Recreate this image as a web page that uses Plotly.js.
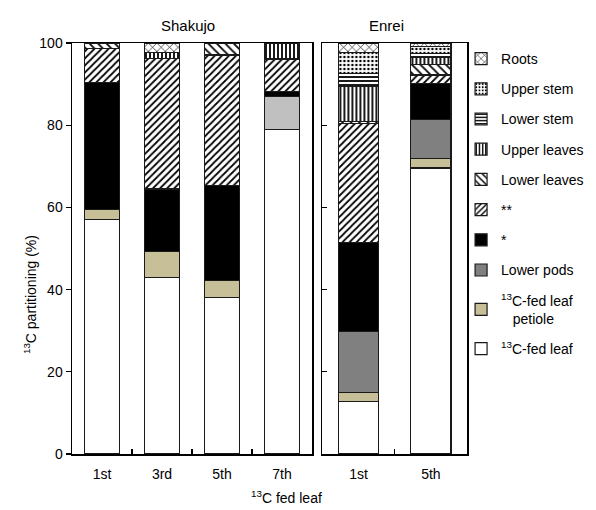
<!DOCTYPE html>
<html><head><meta charset="utf-8">
<script src="https://cdn.plot.ly/plotly-3.0.1.min.js"></script>
<style>body{margin:0;background:#fff}#c{width:596px;height:510px}</style>
</head><body><div id="c"></div>
<script>
// Categories
const shakujoLabels = ['1st', '3rd', '5th', '7th'];
const enreiLabels = ['1st', '5th'];
const seriesNames = ['<sup>13</sup>C-fed leaf', '<sup>13</sup>C-fed leaf<br>\u00a0\u00a0\u00a0petiole', 'Lower pods', '*', '**',
  'Lower leaves', 'Upper leaves', 'Lower stem', 'Upper stem', 'Roots'];

// Shakujo values (%), bottom to top
const sFedLeaf     = [57.1, 43.0, 38.1, 79.0];
const sPetiole     = [2.4, 6.3, 4.2, 0];
const sLowerPods   = [0, 0, 0, 7.9];
const sStar1       = [30.8, 15.2, 23.0, 1.3];
const sStar2       = [8.3, 31.8, 31.8, 7.9];
const sLowerLeaves = [1.4, 0, 2.9, 0];
const sUpperLeaves = [0, 1.4, 0, 3.9];
const sLowerStem   = [0, 0, 0, 0];
const sUpperStem   = [0, 0, 0, 0];
const sRoots       = [0, 2.3, 0, 0];

// Enrei values (%), bottom to top
const eFedLeaf     = [12.7, 69.6];
const ePetiole     = [2.2, 2.3];
const eLowerPods   = [15.0, 9.5];
const eStar1       = [21.6, 8.8];
const eStar2       = [29.0, 2.0];
const eLowerLeaves = [0.4, 2.6];
const eUpperLeaves = [8.5, 1.6];
const eLowerStem   = [3.2, 1.1];
const eUpperStem   = [5.0, 1.6];
const eRoots       = [2.4, 0.9];

const yTicks = [0, 20, 40, 60, 80, 100];

const sData = [sFedLeaf, sPetiole, sLowerPods, sStar1, sStar2, sLowerLeaves, sUpperLeaves, sLowerStem, sUpperStem, sRoots];
const eData = [eFedLeaf, ePetiole, eLowerPods, eStar1, eStar2, eLowerLeaves, eUpperLeaves, eLowerStem, eUpperStem, eRoots];

// styles per series
const styles = [
  {color: '#ffffff'},
  {color: '#c6bf98'},
  {color: '#808080'},
  {color: '#000000'},
  {color: '#ffffff', pattern: {shape: '/', fgcolor: '#000', bgcolor: '#fff', size: 5, solidity: 0.35}},
  {color: '#ffffff', pattern: {shape: '\\', fgcolor: '#000', bgcolor: '#fff', size: 6, solidity: 0.3}},
  {color: '#ffffff', pattern: {shape: '|', fgcolor: '#000', bgcolor: '#fff', size: 4, solidity: 0.45}},
  {color: '#ffffff', pattern: {shape: '-', fgcolor: '#000', bgcolor: '#fff', size: 4, solidity: 0.45}},
  {color: '#ffffff', pattern: {shape: '.', fgcolor: '#000', bgcolor: '#fff', size: 4, solidity: 0.3}},
  {color: '#ffffff', pattern: {shape: 'x', fgcolor: '#000', bgcolor: '#fff', size: 6, solidity: 0.2}}
];

// zero-height segments are not drawn (avoids stray outlines)
const noZero = (arr) => arr.map(v => (v === 0 ? null : v));

const traces = [];
seriesNames.forEach((name, i) => {
  let sColor = styles[i].color;
  if (i === 2) sColor = shakujoLabels.map((l, k) => k === shakujoLabels.length - 1 ? '#c0c0c0' : '#808080');
  const mk = (c) => {
    const m = {color: c, line: {color: '#1a1a1a', width: 1.2}};
    if (styles[i].pattern) m.pattern = styles[i].pattern;
    return m;
  };
  traces.push({
    type: 'bar', name: name, x: shakujoLabels, y: noZero(sData[i]), xaxis: 'x', yaxis: 'y',
    width: 0.58, marker: mk(sColor), legendgroup: 'g' + i, legendrank: 100 - i,
    showlegend: true, hoverinfo: 'skip'
  });
  traces.push({
    type: 'bar', name: name, x: enreiLabels, y: noZero(eData[i]), xaxis: 'x2', yaxis: 'y2',
    width: 0.56, marker: mk(styles[i].color), legendgroup: 'g' + i, legendrank: 100 - i,
    showlegend: false, hoverinfo: 'skip'
  });
});

const fontFam = 'Liberation Sans, Arial, sans-serif';
const axBase = {
  showline: true, mirror: true, linecolor: '#000', linewidth: 1.5,
  showgrid: false, zeroline: false, fixedrange: true
};

const layout = {
  width: 596, height: 510,
  margin: {l: 72, r: 129, t: 43, b: 56, autoexpand: false},
  paper_bgcolor: '#fff', plot_bgcolor: '#fff',
  font: {family: fontFam, size: 14, color: '#000'},
  barmode: 'stack', bargap: 0.42,
  showlegend: true,
  legend: {
    x: 0.985, xanchor: 'left', y: 1.0, yanchor: 'top',
    traceorder: 'grouped', tracegroupgap: 9,
    font: {family: fontFam, size: 14, color: '#000'},
    bgcolor: 'rgba(0,0,0,0)', itemwidth: 30
  },
  xaxis: Object.assign({}, axBase, {
    domain: [0, 0.6076], type: 'category', range: [-0.5, 3.5],
    ticks: 'inside', tickson: 'boundaries', ticklen: 5, tickcolor: '#000', tickwidth: 1.2,
    tickfont: {size: 14}, ticklabelstandoff: 7
  }),
  yaxis: Object.assign({}, axBase, {
    range: [0, 100], tickvals: yTicks, ticks: 'outside', ticklen: 5, tickcolor: '#000', tickwidth: 1.2,
    tickfont: {size: 14}
  }),
  xaxis2: Object.assign({}, axBase, {
    domain: [0.634, 1], type: 'category', range: [-0.5, 1.5], anchor: 'y2',
    ticks: 'inside', tickson: 'boundaries', ticklen: 5, tickcolor: '#000', tickwidth: 1.2,
    tickfont: {size: 14}, ticklabelstandoff: 7
  }),
  yaxis2: Object.assign({}, axBase, {
    range: [0, 100], anchor: 'x2', tickvals: yTicks, ticks: 'inside', ticklen: 5,
    tickcolor: '#000', tickwidth: 1.2, showticklabels: false
  }),
  annotations: [
    {text: 'Shakujo', xref: 'paper', yref: 'paper', x: 0.2937, y: 1, xanchor: 'center', yanchor: 'bottom', yshift: 7,
      showarrow: false, font: {size: 15}},
    {text: 'Enrei', xref: 'paper', yref: 'paper', x: 0.797, y: 1, xanchor: 'center', yanchor: 'bottom', yshift: 7,
      showarrow: false, font: {size: 15}},
    {text: '<sup>13</sup>C partitioning (%)', xref: 'paper', yref: 'paper', x: -0.106, y: 0.387,
      xanchor: 'center', yanchor: 'middle', textangle: -90, showarrow: false, font: {size: 14}},
    {text: '<sup>13</sup>C fed leaf', xref: 'paper', yref: 'paper', x: 0.544, y: -0.105,
      xanchor: 'center', yanchor: 'middle', showarrow: false, font: {size: 14}}
  ]
};

Plotly.newPlot('c', traces, layout, {staticPlot: true, displayModeBar: false});
</script>
</body></html>
